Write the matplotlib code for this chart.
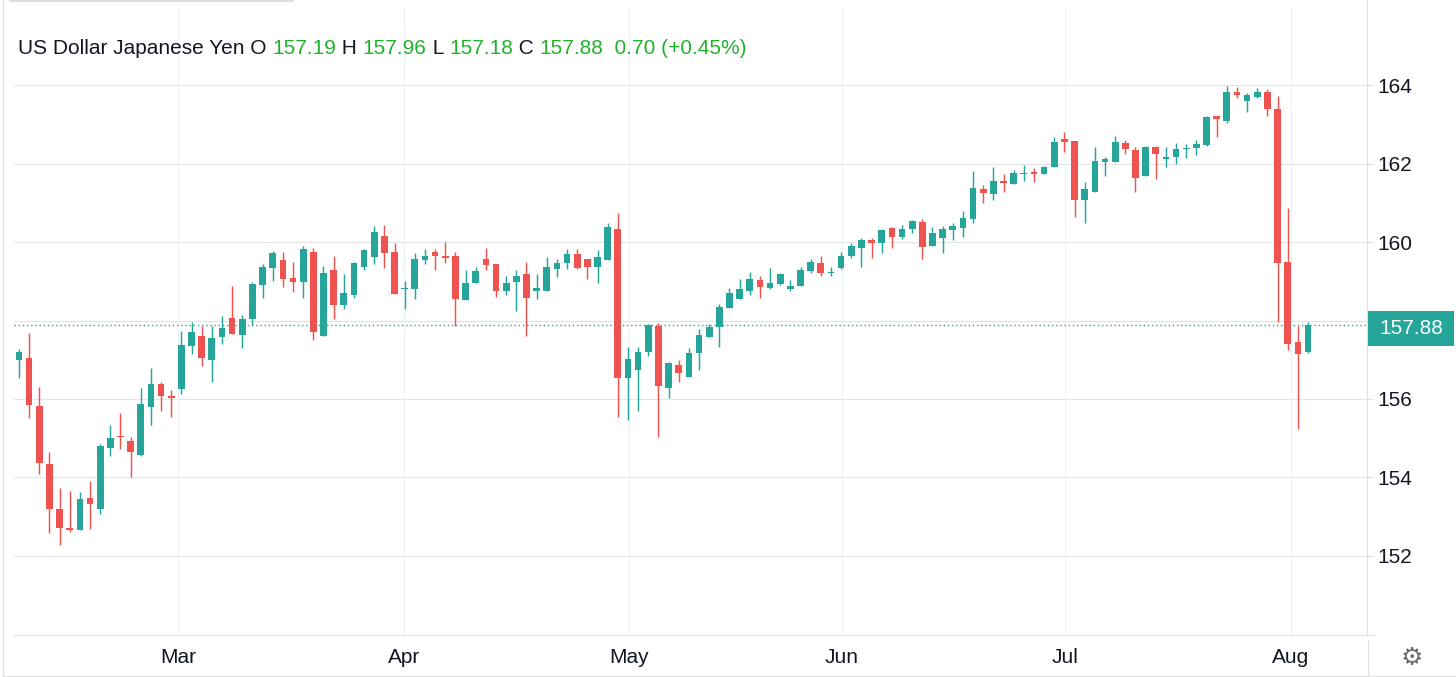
import matplotlib
matplotlib.use("Agg")
import matplotlib.pyplot as plt
from matplotlib.lines import Line2D
from matplotlib.patches import Rectangle

# ---------------- data (USD/JPY daily candles) ----------------
opens = [156.99, 157.05, 155.82, 154.34, 153.19, 152.72, 152.65, 153.48, 153.19, 154.74,
         155.05, 154.93, 154.57, 155.80, 156.37, 156.07, 156.25, 157.36, 157.61, 156.99,
         157.57, 158.06, 157.64, 158.04, 158.90, 159.35, 159.54, 159.08, 158.99, 159.75,
         157.61, 159.29, 158.39, 158.65, 159.37, 159.61, 160.15, 159.75, 158.79, 158.80,
         159.54, 159.75, 159.64, 159.65, 158.52, 158.95, 159.57, 159.44, 158.76, 158.97,
         159.18, 158.76, 158.76, 159.31, 159.46, 159.69, 159.57, 159.37, 159.54, 160.33,
         156.53, 156.74, 157.21, 157.86, 156.29, 156.87, 156.57, 157.18, 157.57, 157.83,
         158.31, 158.55, 158.76, 159.03, 158.84, 158.92, 158.80, 158.88, 159.26, 159.47,
         159.20, 159.33, 159.65, 159.84, 160.05, 159.98, 160.35, 160.14, 160.33, 160.52,
         159.91, 160.09, 160.31, 160.35, 160.59, 161.34, 161.22, 161.55, 161.47, 161.73,
         161.78, 161.72, 161.90, 162.62, 162.57, 161.07, 161.28, 162.05, 162.05, 162.53,
         162.34, 161.68, 162.41, 162.11, 162.16, 162.37, 162.40, 162.47, 163.21, 163.09,
         163.82, 163.59, 163.70, 163.81, 163.38, 159.50, 157.44, 157.19]
highs = [157.27, 157.67, 156.30, 154.64, 153.74, 153.66, 153.62, 153.92, 154.85, 155.33,
         155.65, 155.04, 156.27, 156.80, 156.44, 156.23, 157.74, 157.97, 157.86, 157.86,
         158.11, 158.89, 158.14, 158.99, 159.43, 159.76, 159.75, 159.50, 159.90, 159.86,
         159.39, 159.64, 159.18, 159.50, 159.83, 160.41, 160.43, 159.97, 159.00, 159.71,
         159.82, 159.81, 160.00, 159.75, 159.29, 159.36, 159.86, 159.44, 159.14, 159.29,
         159.50, 159.18, 159.61, 159.56, 159.82, 159.82, 159.57, 159.80, 160.48, 160.73,
         157.32, 157.32, 157.90, 157.93, 156.95, 156.99, 157.29, 157.78, 157.91, 158.42,
         158.82, 159.07, 159.24, 159.14, 159.33, 159.22, 159.03, 159.36, 159.56, 159.64,
         159.36, 159.75, 159.97, 160.10, 160.10, 160.34, 160.38, 160.43, 160.56, 160.59,
         160.38, 160.41, 160.48, 160.80, 161.82, 161.45, 161.92, 161.73, 161.83, 161.96,
         161.88, 161.94, 162.67, 162.81, 162.57, 161.52, 162.41, 162.17, 162.70, 162.60,
         162.41, 162.45, 162.45, 162.41, 162.53, 162.49, 162.60, 163.21, 163.21, 163.97,
         163.94, 163.79, 163.92, 163.89, 163.72, 160.87, 157.87, 157.96]
lows = [156.54, 155.51, 154.08, 152.58, 152.28, 152.62, 152.65, 152.70, 153.07, 154.55,
        154.72, 154.00, 154.56, 155.34, 155.69, 155.55, 156.13, 157.14, 156.85, 156.44,
        157.39, 157.65, 157.29, 157.89, 158.58, 159.01, 158.86, 158.72, 158.58, 157.50,
        157.61, 158.03, 158.29, 158.58, 159.29, 159.44, 159.33, 158.67, 158.29, 158.54,
        159.44, 159.29, 159.47, 157.86, 158.52, 158.95, 159.29, 158.61, 158.65, 158.25,
        157.61, 158.54, 158.76, 159.12, 159.31, 159.31, 159.07, 158.96, 159.54, 155.55,
        155.46, 155.69, 157.10, 155.04, 156.02, 156.44, 156.57, 156.74, 157.57, 157.32,
        158.31, 158.55, 158.65, 158.58, 158.80, 158.90, 158.76, 158.88, 159.20, 159.13,
        159.13, 159.31, 159.59, 159.37, 159.59, 159.73, 159.84, 160.07, 160.24, 159.56,
        159.91, 159.73, 160.05, 160.12, 160.49, 160.99, 161.07, 161.28, 161.47, 161.56,
        161.52, 161.72, 161.90, 162.29, 160.63, 160.49, 161.28, 161.68, 162.05, 162.24,
        161.28, 161.68, 161.61, 161.90, 161.98, 162.15, 162.22, 162.45, 162.68, 163.03,
        163.66, 163.32, 163.66, 163.21, 157.97, 157.25, 155.23, 157.18]
closes = [157.20, 155.85, 154.36, 153.21, 152.71, 152.66, 153.44, 153.33, 154.79, 155.00,
          155.02, 154.66, 155.86, 156.37, 156.08, 156.02, 157.38, 157.71, 157.04, 157.55,
          157.81, 157.65, 158.03, 158.93, 159.36, 159.73, 159.05, 158.98, 159.82, 157.71,
          159.22, 158.39, 158.71, 159.47, 159.80, 160.25, 159.71, 158.67, 158.83, 159.56,
          159.64, 159.65, 159.58, 158.54, 158.96, 159.25, 159.41, 158.76, 158.95, 159.13,
          158.58, 158.82, 159.36, 159.46, 159.69, 159.33, 159.37, 159.61, 160.37, 156.53,
          157.02, 157.20, 157.89, 156.34, 156.91, 156.67, 157.16, 157.63, 157.84, 158.34,
          158.71, 158.81, 159.06, 158.86, 158.96, 159.18, 158.88, 159.29, 159.50, 159.20,
          159.24, 159.64, 159.90, 160.05, 159.98, 160.31, 160.14, 160.33, 160.54, 159.88,
          160.22, 160.33, 160.41, 160.62, 161.37, 161.24, 161.55, 161.50, 161.77, 161.77,
          161.73, 161.90, 162.56, 162.55, 161.07, 161.34, 162.06, 162.11, 162.56, 162.36,
          161.64, 162.41, 162.24, 162.16, 162.37, 162.40, 162.50, 163.18, 163.13, 163.81,
          163.74, 163.75, 163.81, 163.38, 159.47, 157.39, 157.15, 157.88]

month_labels = ["Mar", "Apr", "May", "Jun", "Jul", "Aug"]
month_pos = [15.67, 37.93, 60.1, 81.08, 103.05, 125.3]
price_ticks = [152, 154, 156, 158, 160, 162, 164]

title_name = "US Dollar Japanese Yen"
change_text = "0.70 (+0.45%)"

# ---------------- style ----------------
W, H = 1456, 677
UP = "#26a69a"
DOWN = "#ef5350"
TXT_GREEN = "#1fb32a"
TXT = "#131722"
HGRID = "#e4e4e4"
VGRID = "#ecf1f3"
BORDER = "#dfe2e5"
FONT = "Liberation Sans"
FS = 15

plt.rcParams["font.family"] = [FONT, "DejaVu Sans"]

fig = plt.figure(figsize=(W / 100, H / 100), dpi=100)
fig.patch.set_facecolor("white")

ax_left, ax_right, ax_bot, ax_top = 14, 1367, 635, 0
ax = fig.add_axes([ax_left / W, (H - ax_bot) / H, (ax_right - ax_left) / W, (ax_bot - ax_top) / H])

# scales
ax.set_xlim(-0.49, 132.81)
ax.set_ylim(149.987, 166.166)

# grid
for p in price_ticks:
    ax.axhline(p, color=HGRID, lw=0.8, zorder=0)
for m in month_pos:
    ax.axvline(m, ymin=0, ymax=1 - 7 / 635, color=VGRID, lw=0.8, zorder=0)

# candles
n = len(opens)
xs = list(range(n))
cols = [UP if c >= o else DOWN for o, c in zip(opens, closes)]
ax.vlines(xs, lows, highs, colors=cols, lw=1.05, zorder=2)
bottoms = [min(o, c) for o, c in zip(opens, closes)]
heights = [max(abs(c - o), 0.03) for o, c in zip(opens, closes)]
ax.bar(xs, heights, bottom=bottoms, width=0.66, color=cols, edgecolor="none", zorder=3)

# last price dotted line
last = closes[-1]
ax.axhline(last, color=UP, lw=1.0, linestyle=(0, (1, 2)), zorder=4)

# spines
for s in ["top", "left"]:
    ax.spines[s].set_visible(False)
ax.spines["right"].set_color(BORDER)
ax.spines["bottom"].set_color(BORDER)
ax.spines["right"].set_linewidth(0.8)
ax.spines["bottom"].set_linewidth(0.8)

# ticks (the 158 label sits under the last-price box, as in the original)
ax.yaxis.tick_right()
ax.set_yticks(price_ticks)
ax.set_yticklabels(["" if abs(p - last) < 0.8 else str(p) for p in price_ticks])
ax.tick_params(axis="y", length=4.3, width=0.8, color=BORDER, pad=3.4,
               labelsize=FS, labelcolor=TXT)
ax.set_xticks(month_pos)
ax.set_xticklabels(month_labels)
ax.tick_params(axis="x", length=0, pad=9.5, labelsize=FS, labelcolor=TXT)

# last price label box
fig.canvas.draw()
y_disp = ax.transData.transform((0, last))[1]
box_h = 35
box = Rectangle((1368, y_disp - box_h / 2 - 3), 86, box_h, transform=None,
                facecolor=UP, edgecolor="none", zorder=10)
fig.patches.append(box)
fig.text(1411 / W, (y_disp - 3) / H, f"{last:.2f}", color="white", fontsize=FS,
         ha="center", va="center", zorder=11)

# frame lines
fig.add_artist(Line2D([3 / W, 3 / W], [0, 1], color=BORDER, lw=1.0, transform=fig.transFigure))
fig.add_artist(Line2D([3 / W, 1], [1 / H, 1 / H], color=BORDER, lw=1.0, transform=fig.transFigure))
fig.add_artist(Line2D([10 / W, 293 / W], [1 - 0.5 / H, 1 - 0.5 / H], color="#d8d8d8", lw=1.2,
                      transform=fig.transFigure))
fig.add_artist(Line2D([1368 / W, 1368 / W], [1 / H, (H - 640) / H], color=BORDER, lw=0.8,
                      transform=fig.transFigure))
fig.add_artist(Line2D([1367 / W, 1375 / W], [(H - 635) / H, (H - 635) / H], color=BORDER, lw=0.8,
                      transform=fig.transFigure))

# gear icon
fig.text(1412 / W, (H - 658) / H, "\u2699", fontsize=18, color="#6b6b6b",
         ha="center", va="center", family="DejaVu Sans")

# title with coloured parts
parts = [
    (title_name + " O ", TXT),
    (f"{opens[-1]:.2f}", TXT_GREEN),
    (" H ", TXT),
    (f"{highs[-1]:.2f}", TXT_GREEN),
    (" L ", TXT),
    (f"{lows[-1]:.2f}", TXT_GREEN),
    (" C ", TXT),
    (f"{closes[-1]:.2f}", TXT_GREEN),
    ("  " + change_text, TXT_GREEN),
]
renderer = fig.canvas.get_renderer()
xpix = 18
ypos = (H - 48) / H
for s, c in parts:
    t = fig.text(xpix / W, ypos, s, color=c, fontsize=FS, ha="left", va="center")
    bb = t.get_window_extent(renderer=renderer)
    xpix = bb.x1

fig.savefig("out.png", dpi=100)
